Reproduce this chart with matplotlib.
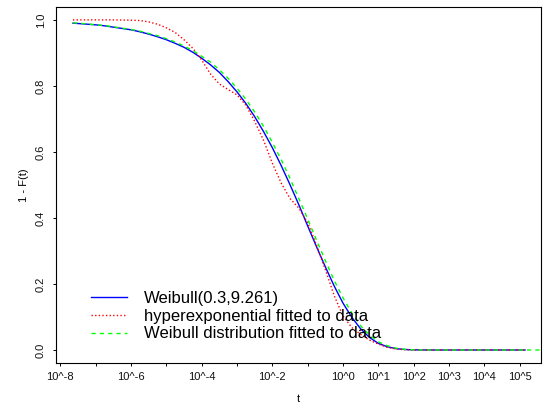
import matplotlib
matplotlib.use("Agg")
import matplotlib.pyplot as plt
import numpy as np

# log10(t) grid shared by the two Weibull curves
log_t_weib = [-7.64, -7.5, -7.25, -7.0, -6.75, -6.5, -6.25, -6.0, -5.75, -5.5,
              -5.25, -5.0, -4.75, -4.5, -4.25, -4.0, -3.75, -3.5, -3.25, -3.0,
              -2.75, -2.5, -2.25, -2.0, -1.75, -1.5, -1.25, -1.0, -0.75, -0.5,
              -0.25, 0.0, 0.25, 0.5, 0.75, 1.0, 1.25, 1.5, 1.75, 2.0,
              2.25, 2.5, 5.15]

# survival of Weibull(0.3, 9.261)
surv_weibull = [0.990, 0.989, 0.987, 0.985, 0.982, 0.978, 0.974, 0.970, 0.964, 0.957,
                0.949, 0.940, 0.929, 0.917, 0.902, 0.884, 0.864, 0.841, 0.813, 0.782,
                0.747, 0.707, 0.662, 0.613, 0.559, 0.501, 0.440, 0.376, 0.313, 0.252,
                0.194, 0.142, 0.099, 0.064, 0.038, 0.020, 0.010, 0.004, 0.0015, 0.0004,
                0.0001, 0.0, 0.0]

# Weibull distribution fitted to the data
log_t_wfit = log_t_weib[:-1] + [5.7]
surv_wfit = [0.991, 0.990, 0.988, 0.985, 0.983, 0.979, 0.975, 0.971, 0.966, 0.959,
             0.952, 0.943, 0.933, 0.921, 0.907, 0.890, 0.872, 0.849, 0.823, 0.793,
             0.760, 0.721, 0.678, 0.629, 0.577, 0.520, 0.459, 0.397, 0.333, 0.271,
             0.211, 0.158, 0.112, 0.073, 0.045, 0.025, 0.013, 0.0055, 0.002, 0.0006,
             0.0001, 0.0, 0.0]

# hyperexponential fitted to the data
log_t_hyper = [-7.64, -7.0, -6.5, -6.0, -5.75, -5.5, -5.25, -5.0, -4.75, -4.5,
               -4.25, -4.0, -3.75, -3.5, -3.25, -3.0, -2.75, -2.5, -2.25, -2.0,
               -1.75, -1.5, -1.25, -1.0, -0.75, -0.5, -0.25, 0.0, 0.25, 0.5,
               0.75, 1.0, 1.25, 1.5, 1.75, 2.0, 5.15]
surv_hyper = [1.000, 1.000, 1.000, 0.999, 0.998, 0.994, 0.987, 0.976, 0.962, 0.940,
              0.914, 0.879, 0.836, 0.806, 0.789, 0.773, 0.742, 0.693, 0.636, 0.566,
              0.506, 0.459, 0.430, 0.386, 0.318, 0.244, 0.165, 0.103, 0.068, 0.047,
              0.030, 0.018, 0.008, 0.003, 0.001, 0.0, 0.0]

series_labels = ["Weibull(0.3,9.261)",
                 "hyperexponential fitted to data",
                 "Weibull distribution fitted to data"]

tick_exponents = list(range(-8, 6))
labelled_exponents = [-8, -6, -4, -2, 0, 1, 2, 3, 4, 5]

plt.rcParams['font.family'] = ['Liberation Sans', 'DejaVu Sans']

fig = plt.figure(figsize=(5.56, 4.08), dpi=100)
ax = fig.add_axes([56 / 556, 1 - 362.7 / 408, 484.7 / 556, 355.7 / 408])

t_weib = np.power(10.0, log_t_weib)
t_wfit = np.power(10.0, log_t_wfit)
t_hyper = np.power(10.0, log_t_hyper)

ax.plot(t_weib, surv_weibull, color='blue', lw=1.0, label=series_labels[0])
ax.plot(t_hyper, surv_hyper, color='red', lw=1.0, dashes=(1, 1.6),
        label=series_labels[1])
ax.plot(t_wfit, surv_wfit, color='#00ff00', lw=1.0, dashes=(3, 3),
        label=series_labels[2])

ax.set_xscale('log')
ax.set_xlim(10 ** -8.12, 10 ** 5.594)
ax.set_ylim(-0.0385, 1.039)

ax.xaxis.set_major_locator(matplotlib.ticker.FixedLocator([10.0 ** e for e in tick_exponents]))
ax.xaxis.set_minor_locator(matplotlib.ticker.NullLocator())
ax.set_xticklabels([f"10^{e}" if e in labelled_exponents else "" for e in tick_exponents])
ax.set_yticks([0.0, 0.2, 0.4, 0.6, 0.8, 1.0])
ax.set_yticklabels(["0.0", "0.2", "0.4", "0.6", "0.8", "1.0"], rotation=90, va='center')

ax.tick_params(axis='both', direction='out', length=2.4, width=0.7, labelsize=8,
               color='black', labelcolor='#111111')
ax.tick_params(axis='x', pad=4)
ax.tick_params(axis='y', pad=5)

for sp in ax.spines.values():
    sp.set_linewidth(0.8)
    sp.set_color('black')

ax.set_xlabel("t", fontsize=8)
ax.set_ylabel("1 - F(t)", fontsize=8)
ax.xaxis.set_label_coords(0.5, -0.088)
ax.yaxis.set_label_coords(-0.056, 0.5)

leg = ax.legend(loc='center left', bbox_to_anchor=(91 / 556, 1 - 316.3 / 408),
                bbox_transform=fig.transFigure, frameon=False, fontsize=12,
                handlelength=2.16, handletextpad=1.0, labelspacing=0.16,
                borderpad=0.0, borderaxespad=0.0)

fig.savefig("out.png", dpi=100)
